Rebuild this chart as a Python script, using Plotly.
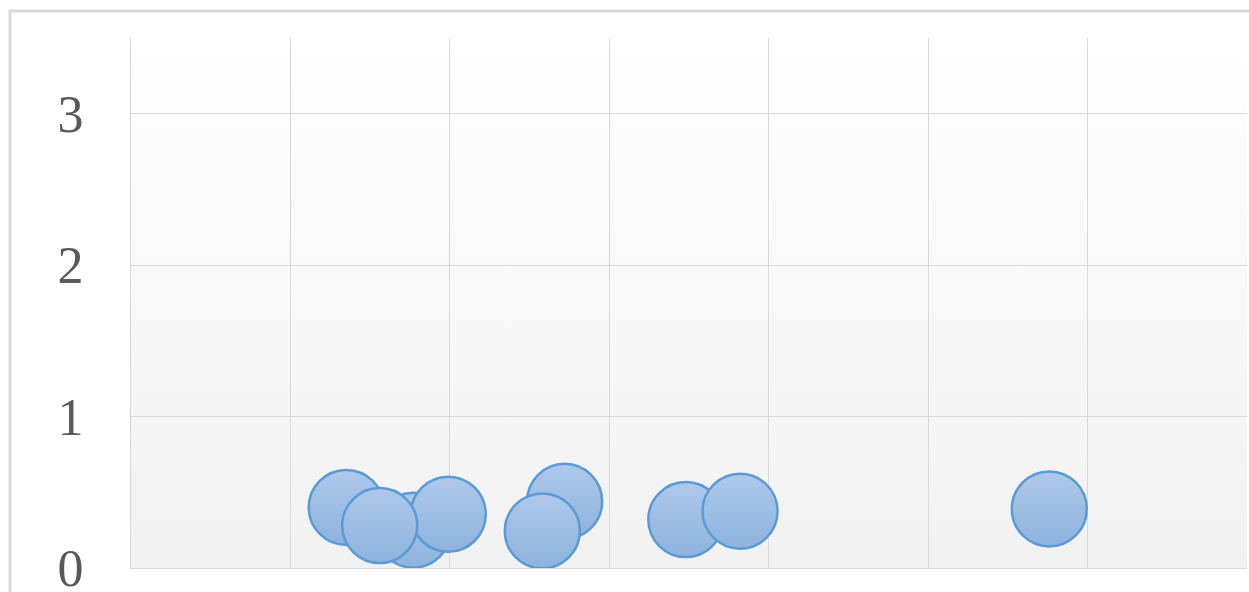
import base64
import plotly.graph_objects as go

# Bubble positions (x, y), listed in drawing order
x_vals = [1.35, 1.77, 1.99, 1.56, 2.72, 2.58, 3.48, 3.82, 5.76]
y_vals = [0.40, 0.25, 0.355, 0.28, 0.44, 0.245, 0.32, 0.375, 0.39]

y_ticks = [0, 1, 2, 3]
y_tick_text = ["0", "1", "2", "3"]

W, H = 1249, 592
ML, MR, MT, MB = 131, 2, 38, 24
plot_w = W - ML - MR
plot_h = H - MT - MB

# soft white-to-grey fill behind the plotting area
svg = (
    '<svg xmlns="http://www.w3.org/2000/svg" width="100" height="100" preserveAspectRatio="none">'
    '<defs><linearGradient id="g" x1="0" y1="0" x2="0" y2="1">'
    '<stop offset="0" stop-color="#ffffff"/><stop offset="1" stop-color="#f1f1f1"/>'
    '</linearGradient></defs><rect width="100" height="100" fill="url(#g)"/></svg>'
)
bg_src = "data:image/svg+xml;base64," + base64.b64encode(svg.encode()).decode()

fig = go.Figure()
fig.add_trace(
    go.Scatter(
        x=x_vals,
        y=y_vals,
        mode="markers",
        marker=dict(
            size=75,
            color="#aec8e9",
            gradient=dict(type="vertical", color="#8eb3df"),
            line=dict(color="#5b9bd5", width=2.5),
            opacity=1,
        ),
        hoverinfo="x+y",
        showlegend=False,
    )
)

def px_to_paper_x(px):
    return (px - ML) / plot_w

def px_to_paper_y(py):
    return (H - MB - py) / plot_h

fig.update_layout(
    width=W,
    height=H,
    margin=dict(l=ML, r=MR, t=MT, b=MB, autoexpand=False),
    paper_bgcolor="#ffffff",
    plot_bgcolor="rgba(0,0,0,0)",
    images=[
        dict(
            source=bg_src,
            xref="paper",
            yref="paper",
            x=0,
            y=1,
            sizex=1,
            sizey=1,
            sizing="stretch",
            layer="below",
        )
    ],
    shapes=[
        # outer chart frame
        dict(
            type="rect",
            xref="paper",
            yref="paper",
            x0=px_to_paper_x(10),
            x1=px_to_paper_x(1262),
            y0=px_to_paper_y(610),
            y1=px_to_paper_y(11),
            line=dict(color="#d9d9d9", width=3),
            fillcolor="rgba(0,0,0,0)",
            layer="below",
        )
    ],
    xaxis=dict(
        range=[0, 7],
        dtick=1,
        showgrid=True,
        gridcolor="#d9d9d9",
        gridwidth=1,
        zeroline=False,
        showline=True,
        linecolor="#d9d9d9",
        linewidth=1,
        showticklabels=False,
        ticks="",
        automargin=False,
        fixedrange=True,
    ),
    yaxis=dict(
        range=[0, 3.5],
        tickvals=y_ticks,
        ticktext=y_tick_text,
        showgrid=True,
        gridcolor="#d9d9d9",
        gridwidth=1,
        zeroline=False,
        showline=True,
        linecolor="#d9d9d9",
        linewidth=1,
        ticks="",
        ticklabelstandoff=36,
        ticklabeloverflow="allow",
        tickfont=dict(family="Liberation Serif", size=52, color="#595959"),
        automargin=False,
        fixedrange=True,
    ),
)

fig.write_html("out.html", config={"displayModeBar": False})
